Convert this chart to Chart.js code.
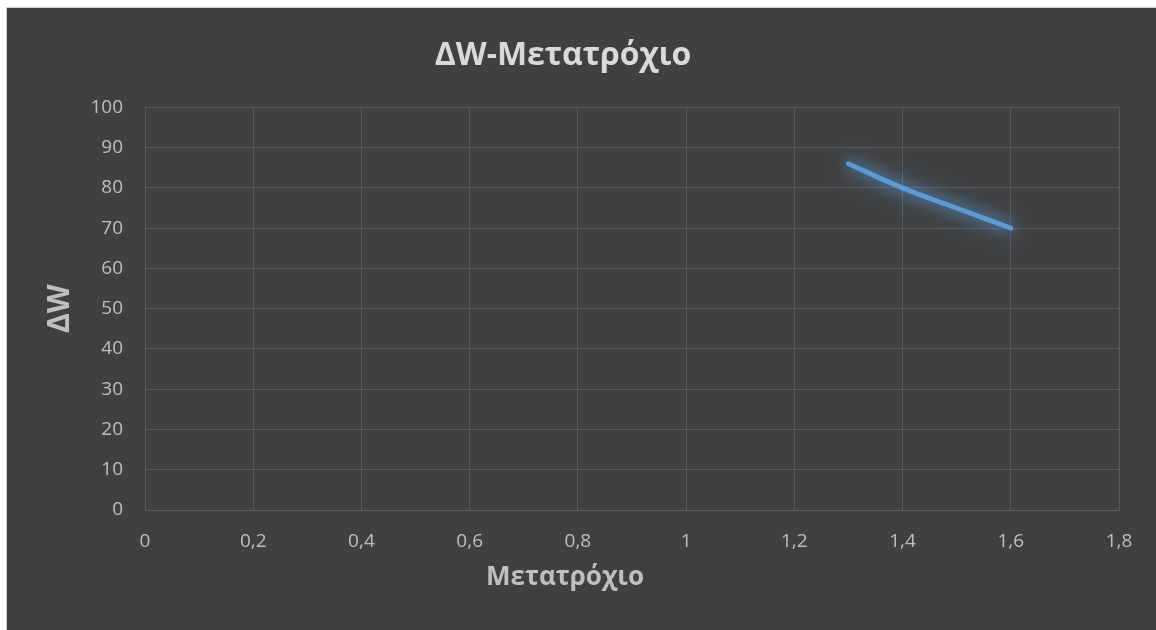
<!DOCTYPE html>
<html>
<head>
<meta charset="utf-8">
<script src="https://cdn.jsdelivr.net/npm/chart.js@4/dist/chart.umd.min.js"></script>
<style>
  html, body { margin: 0; padding: 0; background: #ffffff; }
  #wrap { position: absolute; left: 6px; top: 7px; width: 1150px; height: 623px; background: #404040; border-left: 1px solid #d0d0d0; border-top: 1px solid #d0d0d0; box-sizing: border-box; }
  canvas { display: block; }
</style>
</head>
<body>
<div id="wrap"><canvas id="c" width="1149" height="622"></canvas></div>
<script>
// Rail gauge (Μετατρόχιο) against ΔW
const gauge = [1.3, 1.4, 1.5, 1.6];
const deltaW = [86, 80, 75, 70];
const xTicks = [0, 0.2, 0.4, 0.6, 0.8, 1, 1.2, 1.4, 1.6, 1.8];
const yTicks = [0, 10, 20, 30, 40, 50, 60, 70, 80, 90, 100];

const FONT = "'Open Sans', 'DejaVu Sans', sans-serif";
const fmt = v => String(Math.round(v * 10) / 10).replace('.', ',');

// soft blue glow behind the curve: the line is drawn once more with a wide shadow
const glow = {
  id: 'glow',
  beforeDatasetDraw(chart, args) {
    const ctx = chart.ctx;
    ctx.save();
    ctx.shadowColor = 'rgba(91,155,213,1)';
    ctx.shadowBlur = 24;
    args.meta.dataset.draw(ctx, chart.chartArea);
    ctx.restore();
    ctx.save();
    ctx.shadowColor = 'rgba(91,155,213,0.9)';
    ctx.shadowBlur = 14;
  },
  afterDatasetDraw(chart) { chart.ctx.restore(); }
};

// horizontal axis title, placed under the tick labels
const xTitle = {
  id: 'xTitle',
  afterDraw(chart) {
    const ctx = chart.ctx;
    ctx.save();
    ctx.font = "bold 26px " + FONT;
    ctx.fillStyle = '#bfbfbf';
    ctx.textAlign = 'center';
    ctx.textBaseline = 'middle';
    ctx.fillText('Μετατρόχιο', 558, 570);
    ctx.restore();
  }
};

new Chart(document.getElementById('c'), {
  type: 'line',
  data: {
    datasets: [{
      label: 'ΔW',
      data: gauge.map((g, i) => ({ x: g, y: deltaW[i] })),
      borderColor: '#5b9bd5',
      borderWidth: 4.5,
      borderCapStyle: 'round',
      pointRadius: 0,
      tension: 0.5,
      fill: false
    }]
  },
  plugins: [glow, xTitle],
  options: {
    responsive: false,
    animation: false,
    layout: { padding: { left: 0, right: 37, top: 0, bottom: 0 } },
    plugins: {
      legend: { display: false },
      tooltip: { enabled: false },
      title: {
        display: true,
        text: 'ΔW-Μετατρόχιο',
        color: '#d9d9d9',
        font: { family: FONT, size: 32, weight: 'bold', lineHeight: 1.2 },
        padding: { top: 29, bottom: 32 }
      }
    },
    scales: {
      x: {
        type: 'linear',
        min: 0,
        max: 1.8,
        afterBuildTicks(scale) { scale.ticks = xTicks.map(v => ({ value: v })); },
        afterFit(scale) { scale.height = 120; },
        grid: { color: '#595959', lineWidth: 1, drawTicks: false },
        border: { color: '#595959' },
        ticks: {
          color: '#bfbfbf',
          font: { family: FONT, size: 19 },
          padding: 20,
          callback: v => fmt(v)
        }
      },
      y: {
        min: 0,
        max: 100,
        afterBuildTicks(scale) { scale.ticks = yTicks.map(v => ({ value: v })); },
        afterFit(scale) { scale.width = 138; },
        grid: { color: '#595959', lineWidth: 1, drawTicks: false },
        border: { color: '#595959' },
        title: {
          display: true,
          text: 'ΔW',
          color: '#bfbfbf',
          font: { family: FONT, size: 30, weight: 'bold' },
          padding: { top: 35, bottom: 0 }
        },
        ticks: {
          color: '#bfbfbf',
          font: { family: FONT, size: 19 },
          padding: 22,
          callback: v => fmt(v)
        }
      }
    }
  }
});
</script>
</body>
</html>
